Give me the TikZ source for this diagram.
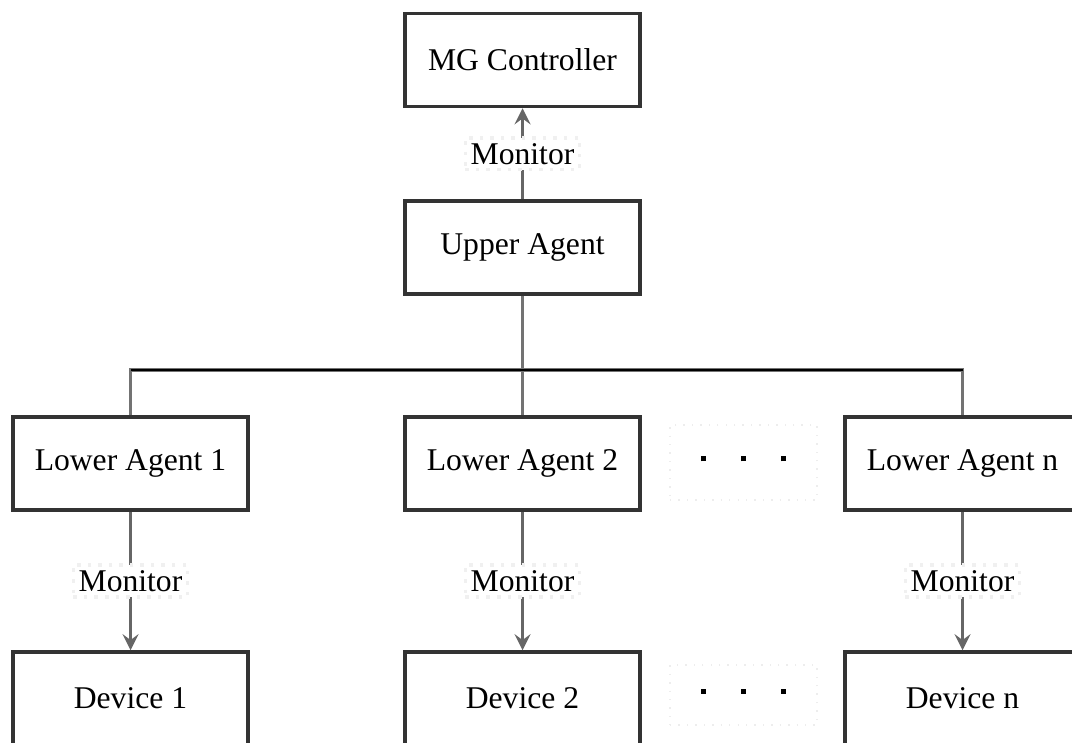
\documentclass[tikz,border=0pt]{standalone}
\usepackage{fontspec}
\setmainfont{Liberation Serif}
\usepackage{tikz}
\usetikzlibrary{arrows}
\tikzstyle{agent} = [rectangle, minimum width=2.35cm, minimum height=0.93cm, text centered, draw=black!80, line width=1pt, fill=white, font=\small]
\tikzstyle{gap} = [rectangle, minimum width=1.47cm, minimum height=0.75cm, text centered, draw=black!7, dotted, font=\small]
\tikzstyle{lbl} = [fill=white, draw=black!6, dotted, inner sep=1.5pt, font=\small]
\tikzstyle{link} = [line width=1pt, draw=black!55]
\tikzstyle{arrow} = [line width=1pt, draw=black!60, ->, >=stealth]
\newcommand{\sq}{\rule[0.5ex]{1.4pt}{1.4pt}}

\begin{document}
\begin{tikzpicture}[node distance=1.875cm]
\useasboundingbox (0,0) rectangle (10.72,-7.42);
\clip (0,0) rectangle (10.72,-7.42);

\node (ctrl) [agent] at (5.225,-0.60) {MG Controller};
\node (upper) [agent, below of=ctrl] {Upper Agent};
\node (bus) [coordinate, below of=upper, yshift=0.65cm]{};
\node (la2) [agent, below of=upper, yshift=-0.285cm] {Lower Agent 2};
\node (la1) [agent, left of=la2, xshift=-2.045cm] {Lower Agent 1};
\node (lan) [agent, right of=la2, xshift=2.525cm] {Lower Agent n};
\node (gap1) [gap, right of=la2, xshift=0.335cm, yshift=0.01cm] {\sq\hspace{10pt}\sq\hspace{10pt}\sq};
\node (dev2) [agent, below of=la2, yshift=-0.475cm] {Device 2};
\node (dev1) [agent, below of=la1, yshift=-0.475cm] {Device 1};
\node (devn) [agent, below of=lan, yshift=-0.475cm] {Device n};
\node (gap2) [gap, minimum height=0.6cm, below of=gap1, yshift=-0.45cm] {\sq\hspace{10pt}\sq\hspace{10pt}\sq};

\draw [arrow] (upper) -- node[lbl]{Monitor} (ctrl);
\draw [link] (upper) -- (la2);
\draw [link] (bus) -| (la1);
\draw [link] (bus) -| (lan);
\draw [line width=0.7pt] (la1 |- bus) -- (lan |- bus);
\draw [arrow] (la1) -- node[lbl]{Monitor} (dev1);
\draw [arrow] (la2) -- node[lbl]{Monitor} (dev2);
\draw [arrow] (lan) -- node[lbl]{Monitor} (devn);

\end{tikzpicture}
\end{document}
